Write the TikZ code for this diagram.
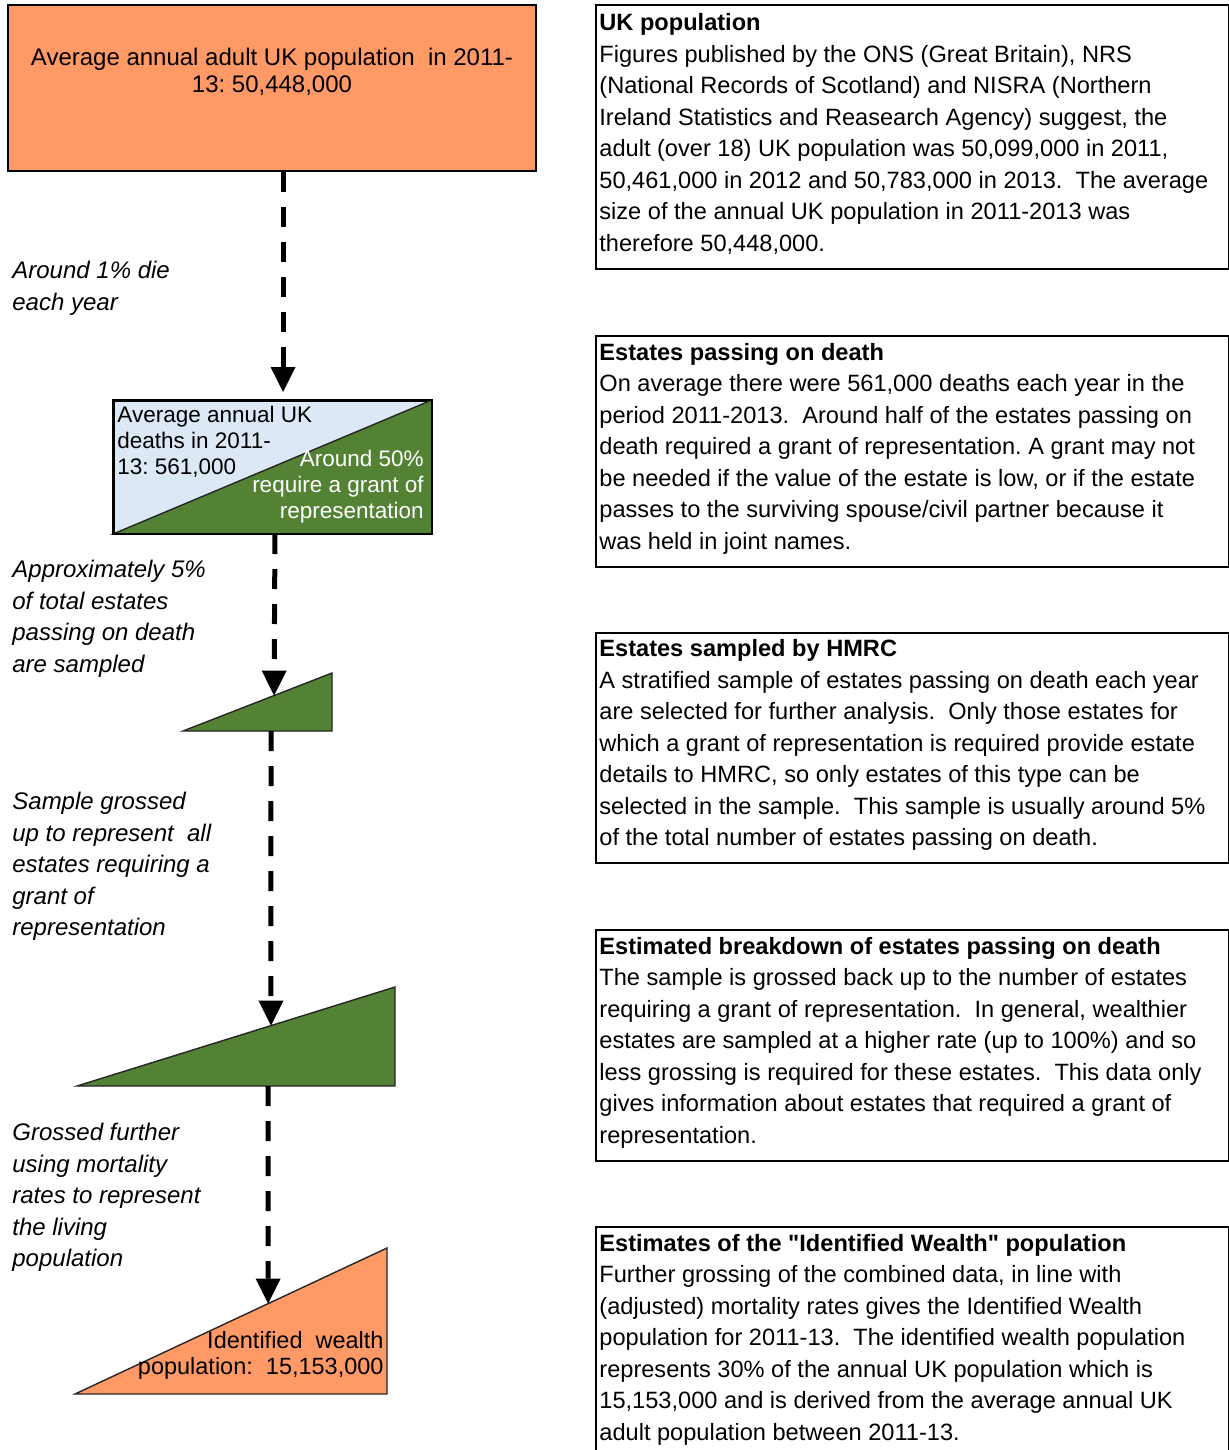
\documentclass[tikz,border=0pt]{standalone}
\usepackage{fontspec}
\setmainfont{Liberation Sans}
\usetikzlibrary{arrows.meta,positioning,calc}
\definecolor{PopOrange}{HTML}{FF9966}
\definecolor{EstateGreen}{HTML}{548235}
\definecolor{DeathBlue}{HTML}{DCE8F5}
\frenchspacing

\begin{document}
\begin{tikzpicture}[
x=0.5pt,y=-0.5pt,
infobox/.style={draw,line width=1pt,anchor=north west,minimum width=316.5pt,inner sep=0pt},
infotext/.style={anchor=west,inner sep=0pt,align=left,font=\fontsize{11.8}{15.75}\selectfont},
shapetxt/.style={inner sep=0pt,font=\fontsize{12}{13.5}\selectfont},
steplabel/.style={anchor=north west,inner sep=0pt,align=left,font=\fontsize{12}{15.75}\selectfont\itshape},
flowarr/.style={line width=2.5pt,dash pattern=on 10pt off 7.5pt,-{Triangle[length=12.5pt,width=12.5pt,line width=0pt]}},
wedge/.style={draw=black!85,line width=0.7pt}
]
\useasboundingbox (0,0) rectangle (1229,1450);

% left column: population funnel
\node[draw,line width=1pt,fill=PopOrange,anchor=north west,minimum width=264pt,minimum height=83pt,inner sep=0pt] (pop) at (7,4) {};
\node[shapetxt,align=center,below=22pt of pop.north] (poptxt) {Average annual adult UK population\ \ in 2011-\\13: 50,448,000};

\node[draw,line width=1pt,fill=DeathBlue,anchor=north west,minimum width=158.5pt,minimum height=66pt,inner sep=0pt] (death) at (113,400) {};
\filldraw[wedge,fill=EstateGreen] (death.south west) -- (death.south east) -- (death.north east) -- cycle;
\draw[line width=1pt] (death.south west) rectangle (death.north east);
\node[shapetxt,font=\fontsize{11.25}{13}\selectfont,anchor=north west,align=left] (deathtxt) at (117,406) {Average annual UK\\deaths in 2011-\\13: 561,000};
\node[shapetxt,font=\fontsize{11.25}{13}\selectfont,anchor=north east,align=right,text=white] (granttxt) at (424,450) {Around 50\%\\require a grant of\\representation};

\coordinate (samp-a) at (183,731);
\coordinate (samp-b) at (332,731);
\coordinate (samp-c) at (332,673);
\filldraw[wedge,fill=EstateGreen] (samp-a) -- (samp-b) -- (samp-c) -- cycle;
\coordinate (samp-in) at ($(samp-a)!0.611!(samp-c)$);
\coordinate (samp-out) at (271,731);

\coordinate (gross-a) at (77,1086);
\coordinate (gross-b) at (395,1086);
\coordinate (gross-c) at (395,987);
\filldraw[wedge,fill=EstateGreen] (gross-a) -- (gross-b) -- (gross-c) -- cycle;
\coordinate (gross-in) at ($(gross-a)!0.610!(gross-c)$);
\coordinate (gross-out) at (268,1086);

\coordinate (wealth-a) at (75,1394);
\coordinate (wealth-b) at (387,1394);
\coordinate (wealth-c) at (387,1248);
\filldraw[wedge,fill=PopOrange] (wealth-a) -- (wealth-b) -- (wealth-c) -- cycle;
\coordinate (wealth-in) at ($(wealth-a)!0.619!(wealth-c)$);
\node[shapetxt,anchor=north east,align=right,font=\fontsize{11.75}{13}\selectfont] (wealthtxt) at (384,1331) {Identified\ \ wealth\\population:\ \ 15,153,000};

% dashed flow arrows
\draw[flowarr] ([xshift=5.5pt]pop.south) -- ([xshift=5.25pt,yshift=4pt]death.north);
\draw[flowarr] ([xshift=1.25pt]death.south) -- (samp-in);
\draw[flowarr] (samp-out) -- (gross-in);
\draw[flowarr] (gross-out) -- (wealth-in);

% step labels
\node[steplabel] (dielbl) at (12,261) {Around 1\% die\\each year};
\node[steplabel] (samplbl) at (12,560) {Approximately 5\%\\of total estates\\passing on death\\are sampled};
\node[steplabel] (grosslbl) at (12,792) {Sample grossed\\up to represent\ \ all\\estates requiring a\\grant of\\representation};
\node[steplabel] (mortlbl) at (12,1123) {Grossed further\\using mortality\\rates to represent\\the living\\population};

% right column: notes
\node[infobox,minimum height=132pt] (ukpop) at (595,4) {};
\node[infotext] (ukpoptxt) at ([xshift=2pt,yshift=1.5pt]ukpop.west) {\textbf{UK population}\\Figures published by the ONS (Great Britain), NRS\\(National Records of Scotland) and NISRA (Northern\\Ireland Statistics and Reasearch Agency) suggest, the\\adult (over 18) UK population was 50,099,000 in 2011,\\50,461,000 in 2012 and 50,783,000 in 2013.\ \ The average\\size of the annual UK population in 2011-2013 was\\therefore 50,448,000.};
\node[infobox,minimum height=115.5pt] (passing) at (595,335) {};
\node[infotext] (passingtxt) at ([xshift=2pt,yshift=1.5pt]passing.west) {\textbf{Estates passing on death}\\On average there were 561,000 deaths each year in the\\period 2011-2013.\ \ Around half of the estates passing on\\death required a grant of representation. A grant may not\\be needed if the value of the estate is low, or if the estate\\passes to the surviving spouse/civil partner because it\\was held in joint names.};
\node[infobox,minimum height=115pt] (sampled) at (595,632) {};
\node[infotext] (sampledtxt) at ([xshift=2pt,yshift=1.5pt]sampled.west) {\textbf{Estates sampled by HMRC}\\A stratified sample of estates passing on death each year\\are selected for further analysis.\ \ Only those estates for\\which a grant of representation is required provide estate\\details to HMRC, so only estates of this type can be\\selected in the sample.\ \ This sample is usually around 5\%\\of the total number of estates passing on death.};
\node[infobox,minimum height=115.5pt] (breakdown) at (595,929) {};
\node[infotext] (breakdowntxt) at ([xshift=2pt,yshift=1.5pt]breakdown.west) {\textbf{Estimated breakdown of estates passing on death}\\The sample is grossed back up to the number of estates\\requiring a grant of representation.\ \ In general, wealthier\\estates are sampled at a higher rate (up to 100\%) and so\\less grossing is required for these estates.\ \ This data only\\gives information about estates that required a grant of\\representation.};
\node[infobox,minimum height=115.5pt] (identified) at (595,1226) {};
\node[infotext] (identifiedtxt) at ([xshift=2pt,yshift=1.5pt]identified.west) {\textbf{Estimates of the \textquotedbl Identified Wealth\textquotedbl\ population}\\Further grossing of the combined data, in line with\\(adjusted) mortality rates gives the Identified Wealth\\population for 2011-13.\ \ The identified wealth population\\represents 30\% of the annual UK population which is\\15,153,000 and is derived from the average annual UK\\adult population between 2011-13.};
\end{tikzpicture}
\end{document}
